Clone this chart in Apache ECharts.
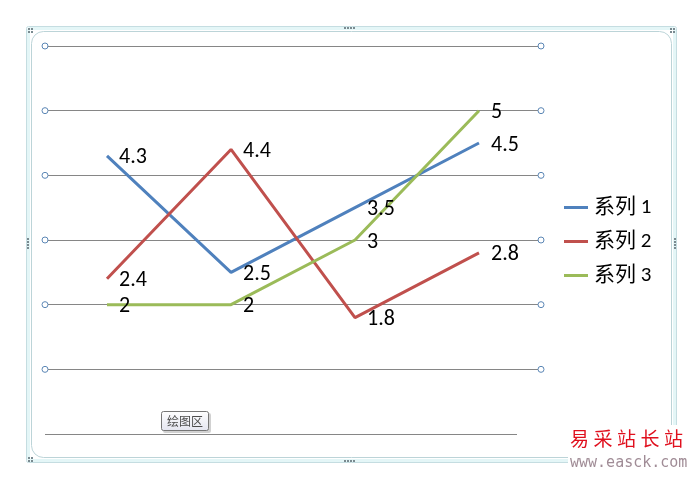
<!DOCTYPE html>
<html><head><meta charset="utf-8">
<script src="https://cdn.jsdelivr.net/npm/echarts@6/dist/echarts.min.js"></script>
<style>html,body{margin:0;padding:0;background:#fff}#c{width:688px;height:480px}</style>
</head><body><div id="c"></div>
<script>
const categories = ['1', '2', '3', '4'];
const seriesNames = ['系列 1', '系列 2', '系列 3'];
const series1 = [4.3, 2.5, 3.5, 4.5];
const series2 = [2.4, 4.4, 1.8, 2.8];
const series3 = [2, 2, 3, 5];
const yTicks = [1, 2, 3, 4, 5, 6];
const colors = ['#4F81BD', '#C0504D', '#9BBB59'];

const GL = 45, GR = 147, GT = 46, GB = 46;
const font = 'Carlito, Lato, "Noto Sans CJK SC", sans-serif';
const chart = echarts.init(document.getElementById('c'), null, {renderer: 'canvas'});

function mk(name, data, color) {
  return {
    name, type: 'line', data, symbol: 'circle', symbolSize: 0, showSymbol: true, smooth: false,
    lineStyle: {color, width: 3}, itemStyle: {color},
    label: {show: true, position: 'right', distance: 12, offset: [0, 2], color: '#000', fontSize: 22, fontFamily: font},
    z: 3
  };
}

const option = {
  animation: false,
  color: colors,
  grid: {left: GL, right: GR, top: GT, bottom: GB, containLabel: false},
  legend: {
    orient: 'vertical', left: 559, top: 192, itemWidth: 24, itemHeight: 3, itemGap: 13,
    icon: 'rect',
    textStyle: {fontSize: 21, color: '#000', fontFamily: font, padding: [0, 0, 0, 1]},
    data: seriesNames
  },
  xAxis: {
    type: 'category', data: categories, boundaryGap: true,
    axisLine: {show: false}, axisTick: {show: false}, axisLabel: {show: false}
  },
  yAxis: {
    type: 'value', min: 0, max: 6, interval: 1,
    axisLine: {show: false}, axisTick: {show: false}, axisLabel: {show: false},
    splitLine: {show: true, showMinLine: false, lineStyle: {color: '#868686', width: 1}}
  },
  series: [mk(seriesNames[0], series1, colors[0]), mk(seriesNames[1], series2, colors[1]), mk(seriesNames[2], series3, colors[2])]
};
chart.setOption(option);

const g = [];
g.push({type: 'rect', shape: {x: 26.5, y: 26.5, width: 650, height: 436, r: 2}, style: {fill: 'none', stroke: '#c5dde1', lineWidth: 1}, silent: true});
g.push({type: 'rect', shape: {x: 28.5, y: 28.5, width: 646, height: 432, r: 2}, style: {fill: 'none', stroke: '#e4f6f7', lineWidth: 3}, silent: true});
g.push({type: 'rect', shape: {x: 31.5, y: 31.5, width: 640, height: 426, r: 12}, style: {fill: 'none', stroke: '#bcd4d8', lineWidth: 1}, silent: true});
function dots(x, y, cols, rows) {
  for (let i = 0; i < cols; i++) for (let j = 0; j < rows; j++)
    g.push({type: 'rect', shape: {x: x + i * 3, y: y + j * 3, width: 2, height: 2}, style: {fill: '#7a8a90'}, silent: true});
}
dots(28, 28, 2, 2); dots(670, 28, 2, 2); dots(28, 457, 2, 2);
dots(344, 27, 4, 1); dots(344, 460, 4, 1);
dots(27, 238, 1, 4); dots(674, 238, 1, 4);
const yZero = chart.convertToPixel({yAxisIndex: 0}, 0);
g.push({type: 'line', shape: {x1: GL, y1: yZero + 0.5, x2: 517, y2: yZero + 0.5}, style: {stroke: '#868686', lineWidth: 1}, silent: true});
const xRight = 688 - GR;
yTicks.forEach(v => {
  const y = chart.convertToPixel({yAxisIndex: 0}, v);
  [GL, xRight].forEach(x => g.push({type: 'circle', shape: {cx: x, cy: y, r: 3}, style: {fill: '#fff', stroke: '#5b86b5', lineWidth: 1}, z: 10, silent: true}));
});
g.push({type: 'rect', shape: {x: 163, y: 413, width: 48, height: 20, r: 2}, style: {fill: 'rgba(0,0,0,0.18)'}, silent: true, z: 11});
g.push({type: 'rect', shape: {x: 161.5, y: 411.5, width: 47, height: 19, r: 2},
  style: {fill: {type: 'linear', x: 0, y: 0, x2: 0, y2: 1, colorStops: [{offset: 0, color: '#ffffff'}, {offset: 1, color: '#e4e5f0'}]}, stroke: '#767676', lineWidth: 1}, silent: true, z: 12});
g.push({type: 'text', x: 185, y: 421, style: {text: '绘图区', fontSize: 12, fill: '#4c4c4c', fontFamily: '"Noto Sans CJK SC", sans-serif', align: 'center', verticalAlign: 'middle'}, silent: true, z: 13});
g.push({type: 'rect', shape: {x: 568, y: 425, width: 120, height: 55}, style: {fill: '#fff'}, silent: true, z: 14});
'易采站长站'.split('').forEach((ch, i) => g.push({type: 'text', x: 570 + i * 23.5, y: 439,
  style: {text: ch, fontSize: 19, fill: '#e0101e', fontFamily: '"Noto Sans CJK SC", sans-serif', verticalAlign: 'middle'}, silent: true, z: 15}));
g.push({type: 'text', x: 570, y: 463, style: {text: 'www.easck.com', fontSize: 15, fill: '#a08c96', fontFamily: '"DejaVu Sans Mono", monospace', verticalAlign: 'middle'}, silent: true, z: 15});
chart.setOption({graphic: g});
</script></body></html>
